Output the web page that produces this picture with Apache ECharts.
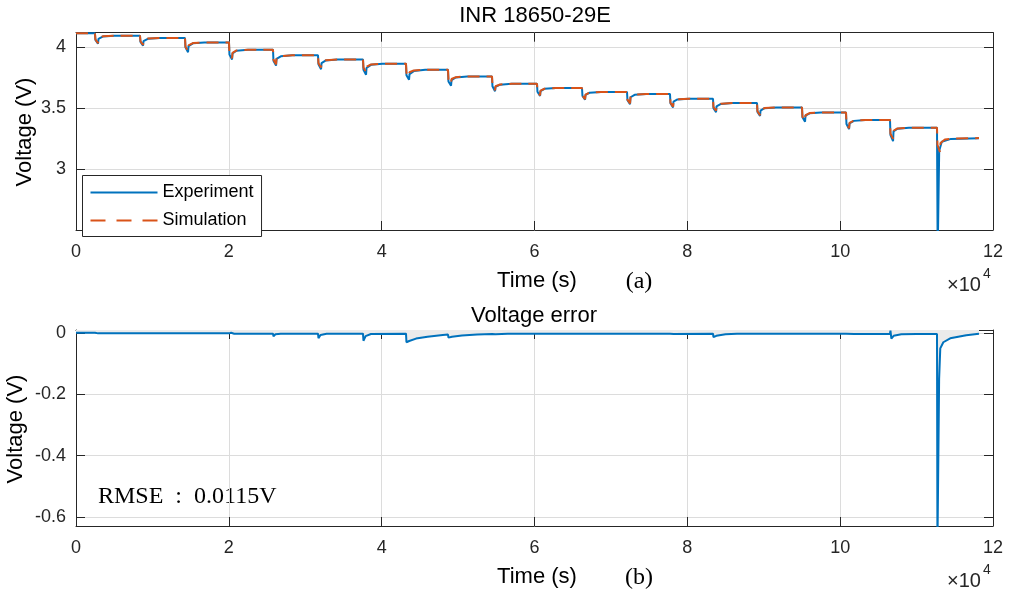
<!DOCTYPE html>
<html>
<head>
<meta charset="utf-8">
<script src="https://cdn.jsdelivr.net/npm/echarts@6.0.0/dist/echarts.min.js"></script>
<style>
html,body{margin:0;padding:0;background:#fff;}
#chart{width:1012px;height:594px;}
</style>
</head>
<body>
<div id="chart"></div>
<script>
// ---- data (time in s, voltage in V) ----
var xTicks = [0, 20000, 40000, 60000, 80000, 100000, 120000];
var topYTicks = [3, 3.5, 4];
var botYTicks = [-0.6, -0.4, -0.2, 0];

var experiment = [
[0,4.115],[2480,4.115],[2540,4.06],[2880,4.03],[2940,4.07],[3500,4.088],[5000,4.095],
[8375,4.095],[8435,4.045],[8775,4.014],[8835,4.05],[9400,4.07],[10900,4.077],
[14264,4.077],[14324,4.0],[14664,3.96],[14724,4.01],[15300,4.033],[16800,4.04],
[20022,4.04],[20082,3.94],[20422,3.90],[20482,3.95],[21000,3.972],[22500,3.98],
[25780,3.98],[25840,3.89],[26180,3.85],[26240,3.905],[26800,3.926],[28300,3.934],
[31669,3.934],[31729,3.86],[32069,3.82],[32129,3.87],[32700,3.892],[34200,3.90],
[37557,3.90],[37617,3.815],[37957,3.775],[38017,3.83],[38600,3.856],[40100,3.866],
[43184,3.866],[43244,3.77],[43584,3.734],[43644,3.78],[44200,3.805],[45700,3.816],
[48681,3.816],[48741,3.72],[49081,3.685],[49141,3.73],[49700,3.752],[51200,3.761],
[54438,3.761],[54498,3.68],[54838,3.64],[54898,3.675],[55500,3.693],[57000,3.70],
[60327,3.70],[60387,3.635],[60727,3.60],[60787,3.64],[61300,3.659],[62800,3.666],
[66216,3.666],[66276,3.60],[66616,3.57],[66676,3.61],[67200,3.627],[68700,3.633],
[72105,3.633],[72165,3.565],[72505,3.534],[72565,3.59],[73100,3.61],[74600,3.616],
[77732,3.616],[77792,3.54],[78132,3.506],[78192,3.555],[78700,3.572],[80200,3.578],
[83359,3.578],[83419,3.50],[83759,3.468],[83819,3.515],[84400,3.535],[85900,3.542],
[89117,3.542],[89177,3.47],[89517,3.437],[89577,3.48],[90100,3.50],[91600,3.506],
[95005,3.506],[95065,3.425],[95405,3.39],[95465,3.44],[96000,3.458],[97500,3.465],
[100764,3.465],[100824,3.37],[101164,3.328],[101224,3.375],[101800,3.396],[103300,3.404],
[106522,3.404],[106582,3.28],[106922,3.23],[106982,3.31],[107500,3.332],[109000,3.34],
[112672,3.34],[112700,3.0],[112760,2.3],[112900,2.3],[112960,3.15],[113300,3.225],[114500,3.248],[118168,3.254]
];

var simulation = [
[0,4.115],[2480,4.115],[2540,4.065],[2880,4.035],[2940,4.075],[3500,4.09],[5000,4.095],
[8375,4.095],[8435,4.05],[8775,4.02],[8835,4.055],[9400,4.072],[10900,4.077],
[14264,4.077],[14324,4.005],[14664,3.968],[14724,4.015],[15300,4.035],[16800,4.04],
[20022,4.04],[20082,3.945],[20422,3.91],[20482,3.955],[21000,3.974],[22500,3.98],
[25780,3.98],[25840,3.9],[26180,3.86],[26240,3.91],[26800,3.928],[28300,3.934],
[31669,3.934],[31729,3.87],[32069,3.835],[32129,3.875],[32700,3.894],[34200,3.90],
[37557,3.90],[37617,3.835],[37957,3.795],[38017,3.84],[38600,3.859],[40100,3.866],
[43184,3.866],[43244,3.79],[43584,3.76],[43644,3.795],[44200,3.81],[45700,3.816],
[48681,3.816],[48741,3.735],[49081,3.70],[49141,3.74],[49700,3.755],[51200,3.761],
[54438,3.761],[54498,3.69],[54838,3.648],[54898,3.68],[55500,3.695],[57000,3.70],
[60327,3.70],[60387,3.64],[60727,3.605],[60787,3.645],[61300,3.66],[62800,3.666],
[66216,3.666],[66276,3.605],[66616,3.575],[66676,3.612],[67200,3.628],[68700,3.633],
[72105,3.633],[72165,3.57],[72505,3.54],[72565,3.593],[73100,3.611],[74600,3.616],
[77732,3.616],[77792,3.545],[78132,3.512],[78192,3.558],[78700,3.573],[80200,3.578],
[83359,3.578],[83419,3.51],[83759,3.48],[83819,3.52],[84400,3.537],[85900,3.542],
[89117,3.542],[89177,3.475],[89517,3.443],[89577,3.483],[90100,3.501],[91600,3.506],
[95005,3.506],[95065,3.43],[95405,3.397],[95465,3.443],[96000,3.46],[97500,3.465],
[100764,3.465],[100824,3.375],[101164,3.336],[101224,3.38],[101800,3.398],[103300,3.404],
[106522,3.404],[106582,3.29],[106922,3.25],[106982,3.315],[107500,3.334],[109000,3.34],
[112672,3.34],[112732,3.2],[113072,3.14],[113132,3.215],[113700,3.243],[115000,3.251],[118168,3.255]
];

var voltageError = [
[0,0.001],[2480,0.001],[2540,-0.005],[2700,0.003],[2900,-0.001],
[8375,-0.001],[8435,-0.005],[8600,0.003],[8800,-0.001],
[14264,-0.001],[14324,-0.006],[14500,0.002],[14800,-0.001],
[20022,-0.001],[20082,-0.007],[20300,0.001],[20700,-0.002],
[25780,-0.002],[25840,-0.011],[26100,-0.004],[26800,-0.002],
[31669,-0.002],[31729,-0.017],[32000,-0.006],[32800,-0.002],
[37557,-0.002],[37617,-0.025],[37900,-0.01],[38600,-0.003],
[43184,-0.002],[43244,-0.03],[43600,-0.026],[44500,-0.018],[46000,-0.012],[48000,-0.006],
[48681,-0.005],[48741,-0.015],[49200,-0.012],[50500,-0.008],[52500,-0.005],[54438,-0.003],
[54498,-0.009],[54900,-0.004],[56500,-0.002],
[60327,-0.002],[60387,0.002],[60500,-0.005],[61000,-0.002],
[66216,-0.002],[66276,0.002],[66400,-0.004],[67000,-0.002],
[72105,-0.002],[72165,0.001],[72300,-0.005],[73000,-0.002],
[77732,-0.002],[77792,-0.006],[78200,-0.003],
[83359,-0.002],[83419,-0.013],[83800,-0.009],[85000,-0.004],[86500,-0.002],
[89117,-0.002],[89177,0.002],[89300,-0.005],[90000,-0.002],
[95005,-0.002],[95065,0.002],[95200,-0.005],[96000,-0.002],
[100764,-0.002],[100824,0.003],[101000,-0.006],[101800,-0.003],
[106522,-0.002],[106582,0.008],[106700,-0.018],[107000,-0.009],[108000,-0.004],[110000,-0.003],
[112672,-0.003],[112730,-0.7],[112880,-0.7],[112950,-0.15],[113100,-0.05],[113500,-0.03],[114400,-0.017],[116500,-0.007],[118168,-0.002]
];

// ---- chart ----
var FONT = '"Liberation Sans", Arial, Helvetica, sans-serif';
var SERIF = '"Liberation Serif", "Times New Roman", serif';
var AX = '#262626';
var GRIDC = '#dcdcdc';
var BLUE = '#0072BD', ORANGE = '#D95319';

function xAxisCfg(grid, primary) {
  return {
    type: 'value', gridIndex: grid, min: 0, max: 120000, interval: 20000,
    position: primary ? 'bottom' : 'top',
    axisLine: {show: true, onZero: false, lineStyle: {color: AX, width: 1}},
    axisTick: {show: true, inside: true, length: 9, lineStyle: {color: AX}},
    axisLabel: {show: primary, margin: 13, color: AX, fontSize: 18, fontFamily: FONT,
      formatter: function (v) { return String(Math.round(v / 10000)); }},
    splitLine: {show: primary, lineStyle: {color: GRIDC, width: 1}}
  };
}
function yAxisCfg(grid, primary, min, max, ticks) {
  return {
    type: 'value', gridIndex: grid, min: min, max: max,
    position: primary ? 'left' : 'right',
    axisLine: {show: true, onZero: false, lineStyle: {color: AX, width: 1}},
    axisTick: {show: true, inside: true, length: 9, customValues: ticks, lineStyle: {color: AX}},
    axisLabel: {show: primary, margin: 10, color: AX, fontSize: 18, fontFamily: FONT, customValues: ticks},
    splitLine: {show: primary, lineStyle: {color: GRIDC, width: 1}}
  };
}

var chart = echarts.init(document.getElementById('chart'), null, {renderer: 'canvas'});
chart.setOption({
  animation: false,
  backgroundColor: '#fff',
  textStyle: {fontFamily: FONT},
  grid: [
    {left: 76, top: 32.7, width: 917, height: 197.3, show: false},
    {left: 76, top: 330, width: 917, height: 196, show: false}
  ],
  xAxis: [xAxisCfg(0, true), xAxisCfg(0, false), xAxisCfg(1, true), xAxisCfg(1, false)],
  yAxis: [
    yAxisCfg(0, true, 2.5, 4.12, topYTicks), yAxisCfg(0, false, 2.5, 4.12, topYTicks),
    yAxisCfg(1, true, -0.63, 0.01, botYTicks), yAxisCfg(1, false, -0.63, 0.01, botYTicks)
  ],
  legend: {
    data: ['Experiment', {name: 'Simulation', lineStyle: {type: [15, 11], width: 2}}],
    orient: 'vertical', left: 82.5, top: 175.5,
    padding: [8, 8, 7, 7], itemGap: 10, itemWidth: 67, itemHeight: 14,
    backgroundColor: '#fff', borderColor: AX, borderWidth: 1, borderRadius: 0,
    selectedMode: false,
    itemStyle: {opacity: 0},
    textStyle: {color: '#000', fontSize: 18, fontFamily: FONT}
  },
  series: [
    {name: 'Experiment', type: 'line', xAxisIndex: 0, yAxisIndex: 0, data: experiment,
     symbol: 'none', clip: true, lineStyle: {color: BLUE, width: 2}, itemStyle: {color: BLUE}, z: 3},
    {name: 'Simulation', type: 'line', xAxisIndex: 0, yAxisIndex: 0, data: simulation,
     symbol: 'none', clip: true, lineStyle: {color: ORANGE, width: 2, type: [12, 7]}, itemStyle: {color: ORANGE}, z: 4},
    {name: 'Error', type: 'line', xAxisIndex: 2, yAxisIndex: 2, data: voltageError,
     symbol: 'none', clip: true, lineStyle: {color: BLUE, width: 2}, itemStyle: {color: BLUE},
     areaStyle: {color: '#ebebeb', opacity: 1, origin: 'end'}, z: 3}
  ],
  graphic: [
    {type: 'text', x: 535, y: 15.5, style: {text: 'INR 18650-29E', font: '22px ' + FONT, fill: '#000', align: 'center', verticalAlign: 'middle'}},
    {type: 'text', x: 534, y: 316, style: {text: 'Voltage error', font: '22px ' + FONT, fill: '#000', align: 'center', verticalAlign: 'middle'}},
    {type: 'text', x: 537, y: 281, style: {text: 'Time (s)', font: '22px ' + FONT, fill: '#000', align: 'center', verticalAlign: 'middle'}},
    {type: 'text', x: 537, y: 577, style: {text: 'Time (s)', font: '22px ' + FONT, fill: '#000', align: 'center', verticalAlign: 'middle'}},
    {type: 'text', x: 639, y: 282, style: {text: '(a)', font: '24px ' + SERIF, fill: '#000', align: 'center', verticalAlign: 'middle'}},
    {type: 'text', x: 639, y: 578, style: {text: '(b)', font: '24px ' + SERIF, fill: '#000', align: 'center', verticalAlign: 'middle'}},
    {type: 'text', x: 25, y: 132, rotation: Math.PI / 2, style: {text: 'Voltage (V)', font: '22px ' + FONT, fill: '#000', align: 'center', verticalAlign: 'middle'}},
    {type: 'text', x: 16, y: 429, rotation: Math.PI / 2, style: {text: 'Voltage (V)', font: '22px ' + FONT, fill: '#000', align: 'center', verticalAlign: 'middle'}},
    {type: 'text', x: 947, y: 285, style: {text: '\u00d710', font: '20px ' + FONT, fill: AX, align: 'left', verticalAlign: 'middle'}},
    {type: 'text', x: 983, y: 274, style: {text: '4', font: '14px ' + FONT, fill: AX, align: 'left', verticalAlign: 'middle'}},
    {type: 'text', x: 947, y: 581, style: {text: '\u00d710', font: '20px ' + FONT, fill: AX, align: 'left', verticalAlign: 'middle'}},
    {type: 'text', x: 983, y: 570, style: {text: '4', font: '14px ' + FONT, fill: AX, align: 'left', verticalAlign: 'middle'}},
    {type: 'text', x: 98, y: 497, style: {text: 'RMSE  :  0.0115V', font: '24px ' + SERIF, fill: '#000', align: 'left', verticalAlign: 'middle'}}
  ]
});
</script>
</body>
</html>
